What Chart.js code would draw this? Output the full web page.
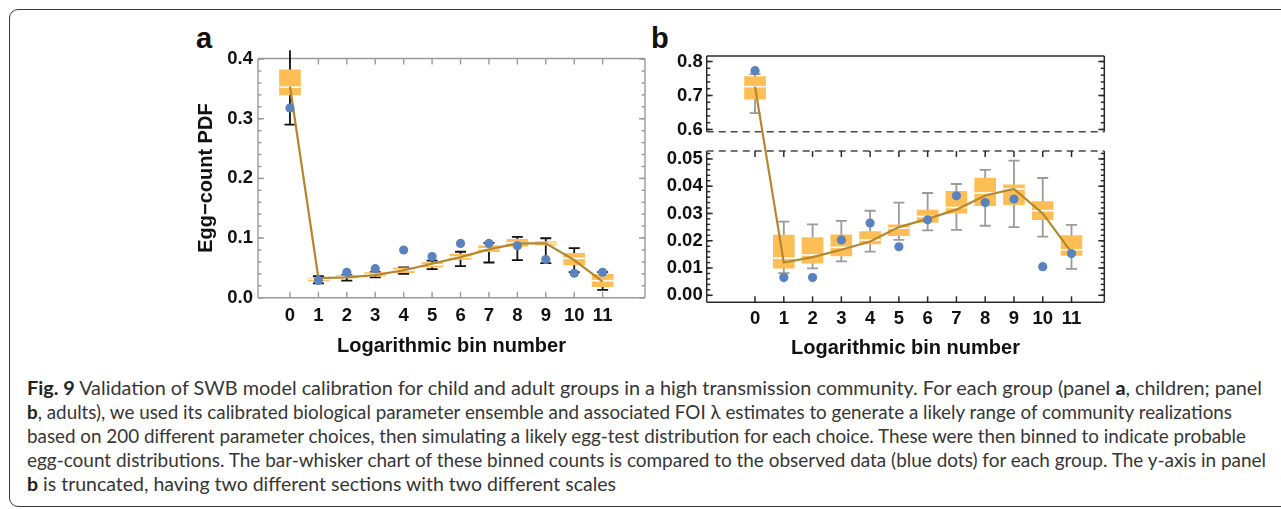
<!DOCTYPE html>
<html>
<head>
<meta charset="utf-8">
<title>Fig. 9</title>
<script src="https://cdn.jsdelivr.net/npm/chart.js@4.4.1/dist/chart.umd.min.js"></script>
<style>
  html, body { margin: 0; padding: 0; background: #fff; }
  body { width: 1281px; height: 509px; position: relative; overflow: hidden; }
  #frame { position: absolute; left: 9px; top: 8.5px; width: 1300px; height: 498px;
           border: 1.6px solid #3a3a3a; border-radius: 9px; box-sizing: border-box; }
  .panel-label { position: absolute; font: bold 29px 'Liberation Sans', Arial, sans-serif;
                 color: #111; line-height: 1; }
  canvas { position: absolute; }
  #caption { position: absolute; left: 27px; top: 375.5px; font-family: Lato, 'Open Sans', sans-serif;
             font-size: 18.5px; line-height: 24px; color: #363636; }
  #caption .cl { position: absolute; left: 0; white-space: nowrap; transform-origin: 0 0; }
  #caption b { font-weight: 700; color: #222; }
</style>
</head>
<body>
<div id="frame"></div>
<div class="panel-label" style="left:196px; top:23.5px;">a</div>
<div class="panel-label" style="left:651px; top:23.5px;">b</div>
<canvas id="chartA" width="460" height="340" style="left:190px; top:30px; width:460px; height:340px;"></canvas>
<canvas id="chartB" width="480" height="340" style="left:640px; top:30px; width:480px; height:340px;"></canvas>

<div id="caption">
  <div class="cl" data-w="1235" style="top:0px"><b>Fig. 9</b> Validation of SWB model calibration for child and adult groups in a high transmission community. For each group (panel <b>a</b>, children; panel</div>
  <div class="cl" data-w="1205" style="top:24px"><b>b</b>, adults), we used its calibrated biological parameter ensemble and associated FOI λ estimates to generate a likely range of community realizations</div>
  <div class="cl" data-w="1219" style="top:48px">based on 200 different parameter choices, then simulating a likely egg-test distribution for each choice. These were then binned to indicate probable</div>
  <div class="cl" data-w="1239" style="top:72px">egg-count distributions. The bar-whisker chart of these binned counts is compared to the observed data (blue dots) for each group. The y-axis in panel</div>
  <div class="cl" data-w="589" style="top:96px"><b>b</b> is truncated, having two different sections with two different scales</div>
</div>

<script>
// ---- bins (logarithmic egg-count bins) ----
const bins = [0, 1, 2, 3, 4, 5, 6, 7, 8, 9, 10, 11];

// ---- panel a: children ----
const aBoxLow      = [0.340, 0.028, 0.033, 0.036, 0.042, 0.051, 0.064, 0.077, 0.086, 0.088, 0.055, 0.0185];
const aBoxHigh     = [0.382, 0.033, 0.037, 0.042, 0.050, 0.059, 0.073, 0.087, 0.098, 0.094, 0.0745, 0.039];
const aMedian      = [0.353, 0.031, 0.035, 0.039, 0.046, 0.055, 0.068, 0.082, 0.092, 0.091, 0.066, 0.0285];
const aWhiskerLow  = [0.290, 0.024, 0.0285, 0.034, 0.040, 0.048, 0.053, 0.059, 0.063, 0.058, 0.043, 0.013];
const aWhiskerHigh = [0.415, 0.036, 0.0376, 0.043, 0.051, 0.062, 0.077, 0.092, 0.102, 0.0997, 0.083, 0.043];
const aObserved    = [0.318, 0.029, 0.0426, 0.0487, 0.080, 0.069, 0.091, 0.091, 0.087, 0.064, 0.041, 0.0426];
const aModel       = [0.354, 0.033, 0.034, 0.038, 0.046, 0.057, 0.068, 0.081, 0.091, 0.091, 0.063, 0.027];
const aYTicks      = [0, 0.1, 0.2, 0.3, 0.4];

// ---- panel b: adults ----
const bBoxLow      = [0.689, 0.0099, 0.0118, 0.0144, 0.0188, 0.0219, 0.0267, 0.0301, 0.0329, 0.0332, 0.0277, 0.0146];
const bBoxHigh     = [0.756, 0.0221, 0.0212, 0.0222, 0.0234, 0.0258, 0.0312, 0.0381, 0.0430, 0.0405, 0.0344, 0.0219];
const bMedian      = [0.726, 0.0136, 0.0148, 0.0176, 0.0203, 0.0246, 0.0289, 0.0322, 0.0375, 0.0390, 0.0310, 0.0167];
const bWhiskerLow  = [0.648, 0.0081, 0.0099, 0.0124, 0.0160, 0.0203, 0.0238, 0.0240, 0.0255, 0.0250, 0.0215, 0.0097];
const bWhiskerHigh = [0.763, 0.0270, 0.0260, 0.0273, 0.0310, 0.0340, 0.0375, 0.0408, 0.0460, 0.0494, 0.0430, 0.0258];
const bObserved    = [0.773, 0.0065, 0.0065, 0.0203, 0.0265, 0.0178, 0.0277, 0.0365, 0.0340, 0.0353, 0.0105, 0.0153];
const bModel       = [0.726, 0.0120, 0.0140, 0.0167, 0.0197, 0.0250, 0.0280, 0.0314, 0.0366, 0.0390, 0.0300, 0.0157];
const bYTicksLower = [0, 0.01, 0.02, 0.03, 0.04, 0.05];
const bYTicksUpper = [0.6, 0.7, 0.8];

// ---- styling ----
const BOX_COLOR  = '#FDBF55';
const LINE_COLOR = '#B5862E';
const DOT_COLOR  = '#5A82BE';
const FONT_FAMILY = "'Liberation Sans', Arial, Helvetica, sans-serif";

Chart.defaults.font.family = FONT_FAMILY;
Chart.defaults.font.size = 18.5;
Chart.defaults.font.weight = 'bold';
Chart.defaults.color = '#111';

// ---- truncated y-axis for panel b: two linear sections sharing one scale ----
// each section maps its value range onto a share of the plot height (0 = bottom, 1 = top)
const B_SECTIONS = [
  { min: -0.00257, max: 0.0529, from: 0.0,    to: 0.6143 },
  { min: 0.5935,   max: 0.8162, from: 0.6927, to: 1.0 }
];

class BrokenLinearScale extends Chart.LinearScale {
  buildTicks() {
    return (this.options.tickValues || []).map(v => ({ value: v }));
  }
  _fraction(v) {
    const [lo, hi] = B_SECTIONS;
    if (v <= lo.max) return lo.from + (v - lo.min) / (lo.max - lo.min) * (lo.to - lo.from);
    if (v >= hi.min) return hi.from + (v - hi.min) / (hi.max - hi.min) * (hi.to - hi.from);
    return lo.to + (v - lo.max) / (hi.min - lo.max) * (hi.from - lo.to);
  }
  getPixelForValue(value) {
    if (value === null || value === undefined) return NaN;
    return this.bottom - this._fraction(value) * (this.bottom - this.top);
  }
  getValueForPixel(pixel) {
    const f = (this.bottom - pixel) / (this.bottom - this.top);
    const [lo, hi] = B_SECTIONS;
    if (f <= lo.to) return lo.min + (f - lo.from) / (lo.to - lo.from) * (lo.max - lo.min);
    if (f >= hi.from) return hi.min + (f - hi.from) / (hi.to - hi.from) * (hi.max - hi.min);
    return lo.max + (f - lo.to) / (hi.from - lo.to) * (hi.min - lo.max);
  }
}
BrokenLinearScale.id = 'brokenLinear';
BrokenLinearScale.defaults = {};
Chart.register(BrokenLinearScale);

// ---- plugin: whiskers behind the boxes, medians on top of them ----
const boxWhiskerPlugin = {
  id: 'boxWhisker',
  beforeDatasetsDraw(chart, args, o) {
    const { ctx, scales: { x, y } } = chart;
    ctx.save();
    ctx.strokeStyle = o.color;
    ctx.lineWidth = o.width;
    o.bins.forEach((b, i) => {
      const px = x.getPixelForValue(b);
      const pLo = y.getPixelForValue(o.low[i]);
      const pHi = y.getPixelForValue(o.high[i]);
      ctx.beginPath();
      ctx.moveTo(px, pLo); ctx.lineTo(px, pHi);
      ctx.moveTo(px - o.cap / 2, pLo); ctx.lineTo(px + o.cap / 2, pLo);
      if (o.high[i] <= y.max) { ctx.moveTo(px - o.cap / 2, pHi); ctx.lineTo(px + o.cap / 2, pHi); }
      ctx.stroke();
    });
    ctx.restore();
  },
  afterDatasetDraw(chart, args, o) {
    if (args.meta.type !== 'bar') return;
    const { ctx, scales: { y } } = chart;
    ctx.save();
    ctx.strokeStyle = '#ffffff';
    ctx.lineWidth = 1.6;
    args.meta.data.forEach((bar, i) => {
      const py = y.getPixelForValue(o.median[i]);
      const half = bar.width / 2;
      ctx.beginPath();
      ctx.moveTo(bar.x - half, py); ctx.lineTo(bar.x + half, py);
      ctx.stroke();
    });
    ctx.restore();
  }
};

// ---- plugin: Mathematica-style frame with inward ticks, one box per axis section ----
const framePlugin = {
  id: 'frame',
  beforeDatasetsDraw(chart, args, o) {
    const { ctx, chartArea: { left, right }, scales: { x, y } } = chart;
    ctx.save();
    ctx.strokeStyle = o.color;
    ctx.lineWidth = o.width;
    const seg = (x1, y1, x2, y2, dash) => {
      ctx.setLineDash(dash || []);
      ctx.beginPath(); ctx.moveTo(x1, y1); ctx.lineTo(x2, y2); ctx.stroke();
    };
    o.sections.forEach(s => {
      const pt = y.getPixelForValue(s.to);
      const pb = y.getPixelForValue(s.from);
      ctx.strokeStyle = o.color;
      seg(left, pt, left, pb);
      seg(right, pt, right, pb);
      ctx.strokeStyle = s.dashTop ? o.dashColor : o.color;
      seg(left, pt, right, pt, s.dashTop ? o.dash : null);
      ctx.strokeStyle = s.dashBottom ? o.dashColor : o.color;
      seg(left, pb, right, pb, s.dashBottom ? o.dash : null);
      ctx.strokeStyle = o.color;
      ctx.setLineDash([]);
      // y ticks, both sides
      const yTick = (v, len) => {
        const py = y.getPixelForValue(v);
        seg(left, py, left + len, py);
        seg(right, py, right - len, py);
      };
      for (let v = s.minorStart; v <= s.minorEnd + 1e-9; v += s.minorStep) yTick(v, o.minorLen);
      s.major.forEach(v => yTick(v, o.majorLen));
      // x ticks on the section edges
      o.xTicks.forEach(b => {
        const px = x.getPixelForValue(b);
        if (s.xTop) seg(px, pt, px, pt + o.majorLen);
        if (s.xBottom) seg(px, pb, px, pb - o.majorLen);
      });
    });
    ctx.restore();
  }
};

function datasetsFor(boxLow, boxHigh, model, observed) {
  return [
    { type: 'bar', data: bins.map((b, i) => ({ x: b, y: [boxLow[i], boxHigh[i]] })),
      backgroundColor: BOX_COLOR, borderWidth: 0, barThickness: 21, order: 3 },
    { type: 'line', data: bins.map((b, i) => ({ x: b, y: model[i] })),
      borderColor: LINE_COLOR, borderWidth: 2.2, pointRadius: 0, fill: false, tension: 0, order: 2 },
    { type: 'scatter', data: bins.map((b, i) => ({ x: b, y: observed[i] })),
      backgroundColor: DOT_COLOR, borderWidth: 0, pointRadius: 4.6, order: 1 }
  ];
}

const xTitle = (bottomPad) => ({
  display: true, text: 'Logarithmic bin number', color: '#111',
  font: { size: 20, weight: 'bold', family: FONT_FAMILY }, padding: { top: 0, bottom: bottomPad }
});

// ---- panel a ----
new Chart(document.getElementById('chartA'), {
  type: 'bar',
  data: { datasets: datasetsFor(aBoxLow, aBoxHigh, aModel, aObserved) },
  options: {
    responsive: false, animation: false, devicePixelRatio: 1, events: [],
    layout: { padding: { left: 0, top: 28.5, right: 5, bottom: 0 } },
    plugins: {
      legend: { display: false }, tooltip: { enabled: false },
      boxWhisker: { bins, low: aWhiskerLow, high: aWhiskerHigh, median: aMedian,
                    color: '#111', width: 1.8, cap: 11 },
      frame: { color: '#9a9a9a', width: 1.4, majorLen: 6, minorLen: 3.5, dash: [7, 5], dashColor: '#444',
               xTicks: bins,
               sections: [{ from: 0, to: 0.401, major: aYTicks, minorStart: 0, minorEnd: 0.4, minorStep: 0.02,
                            xTop: true, xBottom: true }] }
    },
    scales: {
      x: {
        type: 'linear', min: -1.125, max: 12.49, offset: false,
        grid: { display: false, drawTicks: false }, border: { display: false },
        afterBuildTicks: s => { s.ticks = bins.map(v => ({ value: v })); },
        ticks: { padding: 7, maxRotation: 0, autoSkip: false, callback: v => String(v) },
        title: xTitle(12),
        afterFit: s => { s.height = 72.3; }
      },
      y: {
        type: 'linear', min: 0, max: 0.401,
        grid: { display: false, drawTicks: false }, border: { display: false },
        afterBuildTicks: s => { s.ticks = aYTicks.map(v => ({ value: v })); },
        ticks: { padding: 5, callback: v => v.toFixed(1) },
        title: { display: true, text: 'Egg\u2212count PDF', color: '#111',
                 font: { size: 20, weight: 'bold', family: FONT_FAMILY }, padding: { top: 4.5, bottom: 0 } },
        afterFit: s => { s.width = 68; }
      }
    }
  },
  plugins: [framePlugin, boxWhiskerPlugin]
});

// ---- panel b ----
new Chart(document.getElementById('chartB'), {
  type: 'bar',
  data: { datasets: datasetsFor(bBoxLow, bBoxHigh, bModel, bObserved) },
  options: {
    responsive: false, animation: false, devicePixelRatio: 1, events: [],
    layout: { padding: { left: 0, top: 26, right: 15.7, bottom: 0 } },
    plugins: {
      legend: { display: false }, tooltip: { enabled: false },
      boxWhisker: { bins, low: bWhiskerLow, high: bWhiskerHigh, median: bMedian,
                    color: '#9a9a9a', width: 1.8, cap: 11 },
      frame: { color: '#2a2a2a', width: 1.5, majorLen: 6, minorLen: 3.5, dash: [7, 5], dashColor: '#4a4a4a',
               xTicks: bins,
               sections: [
                 { from: B_SECTIONS[0].min, to: B_SECTIONS[0].max, major: bYTicksLower,
                   minorStart: 0, minorEnd: 0.052, minorStep: 0.002, dashTop: true, xTop: true, xBottom: true },
                 { from: B_SECTIONS[1].min, to: B_SECTIONS[1].max, major: bYTicksUpper,
                   minorStart: 0.6, minorEnd: 0.8, minorStep: 0.02, dashBottom: true }
               ] }
    },
    scales: {
      x: {
        type: 'linear', min: -1.68, max: 12.14, offset: false,
        grid: { display: false, drawTicks: false }, border: { display: false },
        afterBuildTicks: s => { s.ticks = bins.map(v => ({ value: v })); },
        ticks: { padding: 6, maxRotation: 0, autoSkip: false, callback: v => String(v) },
        title: xTitle(10),
        afterFit: s => { s.height = 67.7; }
      },
      y: {
        type: 'brokenLinear', min: B_SECTIONS[0].min, max: B_SECTIONS[1].max,
        tickValues: bYTicksLower.concat(bYTicksUpper),
        grid: { display: false, drawTicks: false }, border: { display: false },
        ticks: { padding: 4, callback: v => (v >= 0.5 ? v.toFixed(1) : v.toFixed(2)) },
        afterFit: s => { s.width = 66.7; }
      }
    }
  },
  plugins: [framePlugin, boxWhiskerPlugin]
});

// ---- caption: each line condensed to its column width ----
function fitCaption() {
  document.querySelectorAll('#caption .cl').forEach(el => {
    el.style.transform = 'none';
    const w = el.getBoundingClientRect().width;
    const target = parseFloat(el.dataset.w);
    if (w > 0) el.style.transform = 'scaleX(' + (target / w) + ')';
  });
}
fitCaption();
if (document.fonts && document.fonts.ready) document.fonts.ready.then(fitCaption);
</script>
</body>
</html>
